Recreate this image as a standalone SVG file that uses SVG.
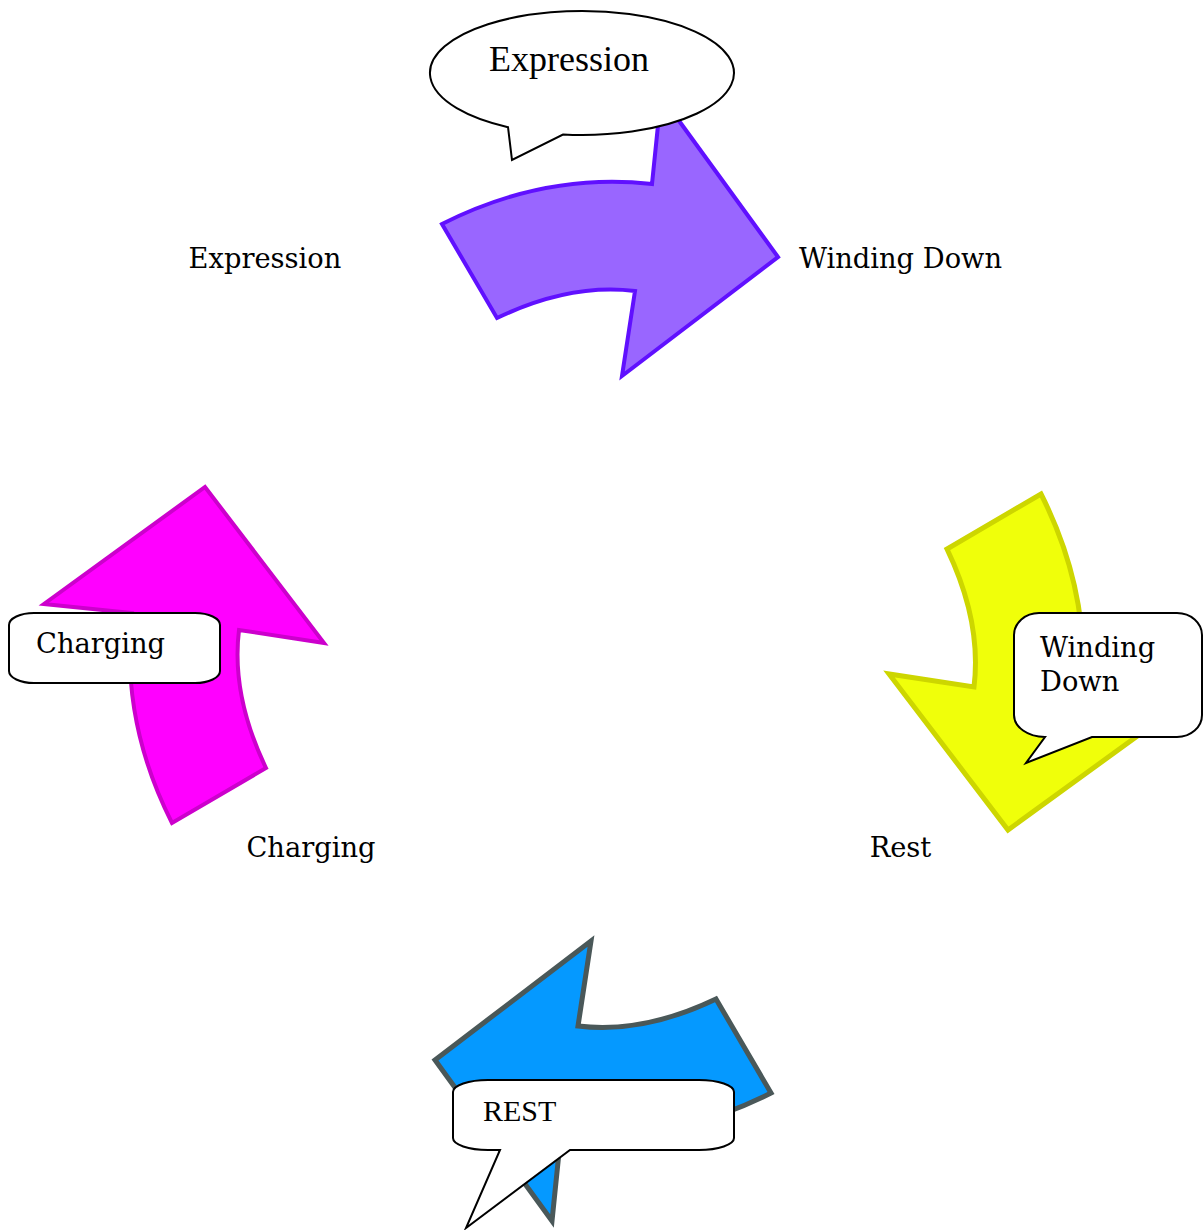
<svg xmlns="http://www.w3.org/2000/svg" width="1203" height="1230" viewBox="0 0 1203 1230">
<defs>
<path id="arr" d="M442,224 Q545,172 652,184 L661,96 L778,257 L622,376 L635,291 Q570,283 497,318 Z"/>
</defs>
<style>
.lbl{font-family:"DejaVu Serif","Liberation Serif",serif;font-size:27.3px;fill:#000}
.tms{font-family:"Liberation Serif",serif;fill:#000}
.bub{fill:#fff;stroke:#000;stroke-width:2;stroke-linejoin:miter}
</style>
<rect width="1203" height="1230" fill="#fff"/>
<g id="connectors" stroke-linejoin="miter">
<use href="#arr" fill="#9966ff" stroke="#6010ff" stroke-width="4"/>
<use href="#arr" transform="rotate(90 606.5 658.5)" fill="#f0ff0a" stroke="#cdd600" stroke-width="5"/>
<use href="#arr" transform="rotate(180 606.5 658.5)" fill="#0599ff" stroke="#4a5859" stroke-width="5"/>
<use href="#arr" transform="rotate(270 606.5 658.5)" fill="#ff00ff" stroke="#cc00cc" stroke-width="4"/>
</g>
<g id="node-expression"><text class="lbl" x="265" y="268" text-anchor="middle">Expression</text></g>
<g id="node-winding-down"><text class="lbl" x="900.5" y="268" text-anchor="middle" font-size="27.8">Winding Down</text></g>
<g id="node-rest"><text class="lbl" x="900.5" y="857" text-anchor="middle">Rest</text></g>
<g id="node-charging"><text class="lbl" x="311" y="857" text-anchor="middle">Charging</text></g>
<g id="callout-expression">
<path class="bub" d="M563,134.51 A152,62 0 1 0 508,127.16 L512,160 Z"/>
<text class="tms" x="489" y="71" font-size="36">Expression</text>
</g>
<g id="callout-winding-down">
<path class="bub" d="M1039,613 H1177 A25,22 0 0 1 1202,635 V715 A25,22 0 0 1 1177,737 H1092 L1026,763 L1045,737 A31,22 0 0 1 1014,715 V635 A25,22 0 0 1 1039,613 Z"/>
<text class="lbl" x="1040" y="657" font-size="28.5">Winding</text>
<text class="lbl" x="1040" y="691" font-size="28.5">Down</text>
</g>
<g id="callout-charging">
<path class="bub" d="M34,613 H195 A25,12 0 0 1 220,625 V671 A25,12 0 0 1 195,683 H34 A25,12 0 0 1 9,671 V625 A25,12 0 0 1 34,613 Z"/>
<text class="lbl" x="36" y="653">Charging</text>
</g>
<g id="callout-rest">
<path class="bub" d="M488,1080 H699 A35,12 0 0 1 734,1092 V1138 A35,12 0 0 1 699,1150 H570 L466,1228 L500,1150 H488 A35,12 0 0 1 453,1138 V1092 A35,12 0 0 1 488,1080 Z"/>
<text class="tms" x="483" y="1121" font-size="30">REST</text>
</g>
</svg>
